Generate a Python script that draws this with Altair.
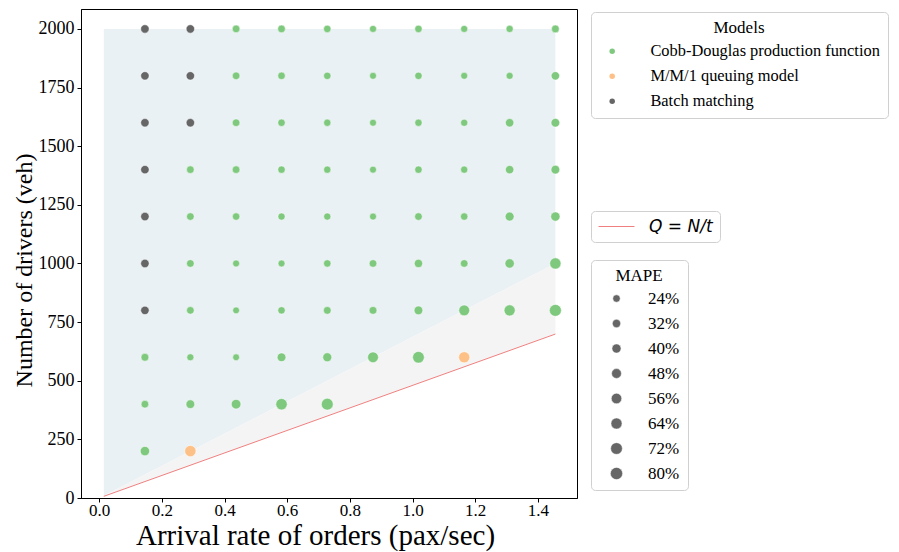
import altair as alt
import pandas as pd

# ---------------- data ----------------
arrival_levels = [0.146, 0.291, 0.437, 0.582, 0.728, 0.874, 1.019, 1.165, 1.310, 1.456]

# per column (arrival level): drivers, model code, MAPE (%)
col_drivers = [
    [200, 400, 600, 800, 1000, 1200, 1400, 1600, 1800, 2000],
    [200, 400, 600, 800, 1000, 1200, 1400, 1600, 1800, 2000],
    [400, 600, 800, 1000, 1200, 1400, 1600, 1800, 2000],
    [400, 600, 800, 1000, 1200, 1400, 1600, 1800, 2000],
    [400, 600, 800, 1000, 1200, 1400, 1600, 1800, 2000],
    [600, 800, 1000, 1200, 1400, 1600, 1800, 2000],
    [600, 800, 1000, 1200, 1400, 1600, 1800, 2000],
    [600, 800, 1000, 1200, 1400, 1600, 1800, 2000],
    [800, 1000, 1200, 1400, 1600, 1800, 2000],
    [800, 1000, 1200, 1400, 1600, 1800, 2000],
]
col_models = [
    ["C", "C", "C", "B", "B", "B", "B", "B", "B", "B"],
    ["M", "C", "C", "C", "C", "C", "C", "B", "B", "B"],
    ["C"] * 9,
    ["C"] * 9,
    ["C"] * 9,
    ["C"] * 8,
    ["C"] * 8,
    ["M", "C", "C", "C", "C", "C", "C", "C"],
    ["C"] * 7,
    ["C"] * 7,
]
col_mape = [
    [43, 26, 28, 33, 33, 33, 33, 33, 33, 33],
    [66, 36, 21, 26, 26, 26, 26, 33, 33, 33],
    [46, 19, 19, 20, 24, 26, 26, 26, 26],
    [68, 36, 24, 20, 22, 24, 24, 25, 26],
    [74, 39, 27, 24, 22, 23, 23, 24, 24],
    [60, 28, 26, 20, 20, 20, 20, 21],
    [72, 36, 32, 26, 24, 23, 24, 24],
    [64, 60, 26, 24, 22, 22, 20, 21],
    [64, 43, 38, 33, 33, 21, 22],
    [76, 66, 42, 36, 36, 33, 27],
]
model_names = {
    "C": "Cobb-Douglas production function",
    "M": "M/M/1 queuing model",
    "B": "Batch matching",
}
model_order = ["Cobb-Douglas production function", "M/M/1 queuing model", "Batch matching"]
model_colors = ["#7fc97f", "#fdc086", "#666666"]

# shaded regions and Q = N/t line
region_x = [0.0146, 1.456]
line_y = [7, 699]
split_y = [10, 1000]
top_y = [2000, 2000]

mape_legend_values = [24, 32, 40, 48, 56, 64, 72, 80]
x_ticks = [0.0, 0.2, 0.4, 0.6, 0.8, 1.0, 1.2, 1.4]
y_ticks = [0, 250, 500, 750, 1000, 1250, 1500, 1750, 2000]

# ---------------- tables ----------------
rows = []
for xv, ds, ms, ps in zip(arrival_levels, col_drivers, col_models, col_mape):
    for d, m, p in zip(ds, ms, ps):
        rows.append({"arrival": xv, "drivers": d, "model": model_names[m], "mape": p})
points = pd.DataFrame(rows)

region = pd.DataFrame({"x": region_x, "line": line_y, "split": split_y, "top": top_y,
                       "series": ["Q = N/t"] * len(region_x)})

SERIF = "Liberation Serif"

xscale = alt.Scale(domain=[-0.058, 1.525], nice=False, zero=False)
yscale = alt.Scale(domain=[0, 2085], nice=False, zero=False)

xaxis = alt.Axis(title="Arrival rate of orders (pax/sec)", values=x_ticks, format=".1f",
                 titleFontSize=29, titleX=234, titleY=46, titleAlign="center",
                 titleBaseline="alphabetic", labelFontSize=17, labelPadding=0, tickSize=4)
yaxis = alt.Axis(title="Number of drivers (veh)", values=y_ticks, format="d",
                 titleFontSize=24, titleX=-50, titleY=261, titleAlign="center",
                 titleBaseline="alphabetic", titleAngle=270, labelFontSize=18,
                 labelPadding=3, tickSize=4)

base = alt.Chart(region)

blue = base.mark_area(color="#e9f1f5", opacity=1).encode(
    x=alt.X("x:Q", scale=xscale, axis=xaxis),
    y=alt.Y("split:Q", scale=yscale, axis=yaxis),
    y2="top:Q",
)

gray = base.mark_area(color="#f4f4f4", opacity=1).encode(
    x=alt.X("x:Q", scale=xscale),
    y=alt.Y("line:Q", scale=yscale),
    y2="split:Q",
)

qline = base.mark_line(strokeWidth=1).encode(
    x=alt.X("x:Q", scale=xscale),
    y=alt.Y("line:Q", scale=yscale),
    stroke=alt.Stroke(
        "series:N",
        scale=alt.Scale(domain=["Q = N/t"], range=["#f08080"]),
        legend=alt.Legend(
            title=None, orient="none", legendX=510, legendY=202,
            symbolType="stroke", symbolSize=1296, symbolStrokeWidth=1,
            clipHeight=17, padding=7, labelOffset=14, symbolOffset=0,
            labelFont="DejaVu Sans", labelFontStyle="italic", labelFontSize=17,
        ),
    ),
)

pts = alt.Chart(points).mark_circle(opacity=1, stroke="white", strokeWidth=0.5).encode(
    x=alt.X("arrival:Q", scale=xscale),
    y=alt.Y("drivers:Q", scale=yscale),
    color=alt.Color(
        "model:N",
        scale=alt.Scale(domain=model_order, range=model_colors),
        legend=alt.Legend(
            title="Models", orient="none", legendX=510, legendY=3,
            titleAnchor="middle", symbolType="circle", symbolSize=30,
            symbolStrokeWidth=0, symbolOffset=5, labelOffset=30, labelLimit=400,
            labelFontSize=16.4, padding=8, rowPadding=8, titlePadding=6,
        ),
    ),
    size=alt.Size(
        "mape:Q",
        scale=alt.Scale(type="linear", domain=[24, 80], range=[55, 150], zero=False),
        legend=alt.Legend(
            title="MAPE", orient="none", legendX=510, legendY=251,
            values=mape_legend_values, labelExpr="datum.label + '%'",
            titleAnchor="middle", symbolType="circle",
            symbolFillColor="#666666", symbolStrokeColor="white",
            symbolStrokeWidth=0.5, symbolOpacity=1,
            symbolOffset=9, labelOffset=23, padding=8, rowPadding=7, titlePadding=5,
        ),
    ),
)

chart = alt.layer(blue, gray, qline, pts).properties(
    width=496, height=489,
    padding={"left": 73, "top": 1, "right": 313, "bottom": 56},
    autosize=alt.AutoSizeParams(type="none"),
).configure_view(
    stroke="black", strokeWidth=1,
).configure_axis(
    grid=False, domainColor="black", tickColor="black", labelColor="black",
    titleColor="black", labelFont=SERIF, titleFont=SERIF,
    titleFontWeight="normal",
).configure_legend(
    labelFont=SERIF, titleFont=SERIF, labelFontSize=17, titleFontSize=17,
    titleFontWeight="normal", labelColor="black", titleColor="black",
    fillColor="white", strokeColor="#d0d0d0", cornerRadius=4,
)

chart.save("out.html", embed_options={"renderer": "svg", "actions": False})
